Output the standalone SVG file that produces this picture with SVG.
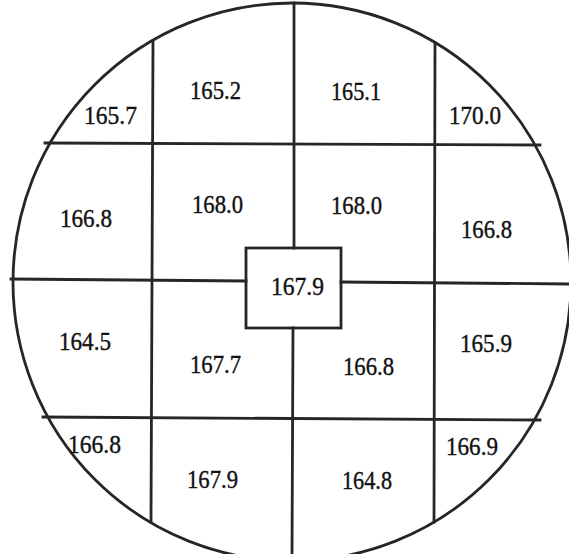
<svg xmlns="http://www.w3.org/2000/svg" width="569" height="554" viewBox="0 0 569 554">
<style>
.ln{stroke:#262626;stroke-width:2.8;fill:none;stroke-linecap:square}
.v{font-size:26px;fill:#111;stroke:#111;stroke-width:0.4}
</style>
<rect width="569" height="554" fill="#fff"/>
<g id="connectors">
<circle class="ln" cx="292" cy="282" r="279"/>
<line class="ln" x1="153" y1="42" x2="151" y2="522"/>
<line class="ln" x1="294" y1="3" x2="294" y2="248"/>
<line class="ln" x1="293" y1="328" x2="292" y2="554"/>
<line class="ln" x1="435" y1="43" x2="434" y2="522"/>
<line class="ln" x1="45" y1="143" x2="540" y2="145"/>
<line class="ln" x1="11" y1="279" x2="246" y2="281"/>
<line class="ln" x1="341" y1="282" x2="569" y2="284"/>
<line class="ln" x1="43" y1="417" x2="540" y2="420"/>
</g>
<g font-family="Liberation Serif, Times New Roman, serif">
<g id="center"><rect class="ln" x="246" y="248" width="95" height="80"/><text class="v" x="271" y="295" textLength="53" lengthAdjust="spacingAndGlyphs">167.9</text></g>
<g id="r1c1"><text class="v" x="84" y="124" textLength="53" lengthAdjust="spacingAndGlyphs">165.7</text></g>
<g id="r1c2"><text class="v" x="190" y="99" textLength="51" lengthAdjust="spacingAndGlyphs">165.2</text></g>
<g id="r1c3"><text class="v" x="331" y="100" textLength="50" lengthAdjust="spacingAndGlyphs">165.1</text></g>
<g id="r1c4"><text class="v" x="449" y="124" textLength="52" lengthAdjust="spacingAndGlyphs">170.0</text></g>
<g id="r2c1"><text class="v" x="60" y="227" textLength="52" lengthAdjust="spacingAndGlyphs">166.8</text></g>
<g id="r2c2"><text class="v" x="192" y="213" textLength="51" lengthAdjust="spacingAndGlyphs">168.0</text></g>
<g id="r2c3"><text class="v" x="331" y="214" textLength="51" lengthAdjust="spacingAndGlyphs">168.0</text></g>
<g id="r2c4"><text class="v" x="461" y="238" textLength="51" lengthAdjust="spacingAndGlyphs">166.8</text></g>
<g id="r3c1"><text class="v" x="59" y="350" textLength="52" lengthAdjust="spacingAndGlyphs">164.5</text></g>
<g id="r3c2"><text class="v" x="190" y="373" textLength="51" lengthAdjust="spacingAndGlyphs">167.7</text></g>
<g id="r3c3"><text class="v" x="343" y="375" textLength="51" lengthAdjust="spacingAndGlyphs">166.8</text></g>
<g id="r3c4"><text class="v" x="460" y="352" textLength="52" lengthAdjust="spacingAndGlyphs">165.9</text></g>
<g id="r4c1"><text class="v" x="68" y="453" textLength="53" lengthAdjust="spacingAndGlyphs">166.8</text></g>
<g id="r4c2"><text class="v" x="187" y="488" textLength="51" lengthAdjust="spacingAndGlyphs">167.9</text></g>
<g id="r4c3"><text class="v" x="342" y="489" textLength="50" lengthAdjust="spacingAndGlyphs">164.8</text></g>
<g id="r4c4"><text class="v" x="446" y="455" textLength="52" lengthAdjust="spacingAndGlyphs">166.9</text></g>
</g>
</svg>
